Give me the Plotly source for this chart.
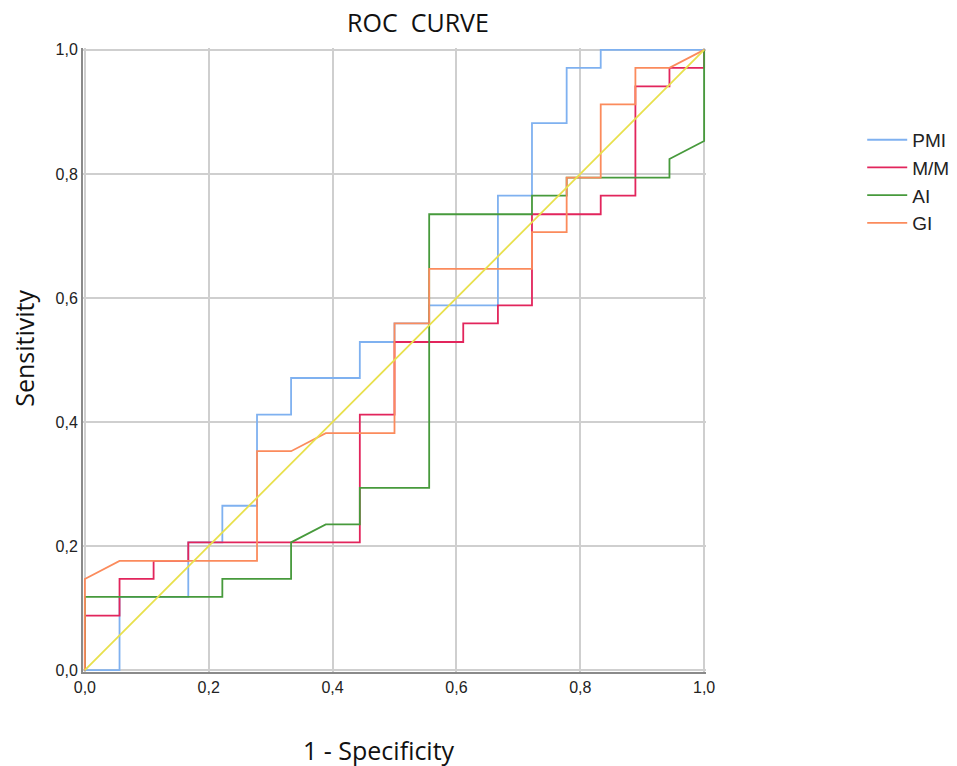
import plotly.graph_objects as go

# ROC curve points (1 - Specificity, Sensitivity)
pmi_fpr = [0.0, 0.056, 0.056, 0.167, 0.167, 0.222, 0.222, 0.278, 0.278, 0.333, 0.333, 0.444, 0.444, 0.5, 0.5,
           0.556, 0.556, 0.667, 0.667, 0.722, 0.722, 0.778, 0.778, 0.833, 0.833, 1.0]
pmi_tpr = [0.0, 0.0, 0.118, 0.118, 0.206, 0.206, 0.265, 0.265, 0.412, 0.412, 0.471, 0.471, 0.529, 0.529, 0.559,
           0.559, 0.588, 0.588, 0.765, 0.765, 0.882, 0.882, 0.971, 0.971, 1.0, 1.0]

mm_fpr = [0.0, 0.0, 0.056, 0.056, 0.111, 0.111, 0.167, 0.167, 0.444, 0.444, 0.5, 0.5, 0.611, 0.611, 0.667,
          0.667, 0.722, 0.722, 0.833, 0.833, 0.889, 0.889, 0.944, 0.944, 1.0, 1.0]
mm_tpr = [0.0, 0.088, 0.088, 0.147, 0.147, 0.176, 0.176, 0.206, 0.206, 0.412, 0.412, 0.529, 0.529, 0.559, 0.559,
          0.588, 0.588, 0.735, 0.735, 0.765, 0.765, 0.941, 0.941, 0.971, 0.971, 1.0]

ai_fpr = [0.0, 0.0, 0.222, 0.222, 0.333, 0.333, 0.389, 0.444, 0.444, 0.556, 0.556, 0.722, 0.722, 0.778, 0.778,
          0.944, 0.944, 1.0, 1.0]
ai_tpr = [0.0, 0.118, 0.118, 0.147, 0.147, 0.206, 0.235, 0.235, 0.294, 0.294, 0.735, 0.735, 0.765, 0.765, 0.794,
          0.794, 0.824, 0.853, 1.0]

gi_fpr = [0.0, 0.0, 0.056, 0.278, 0.278, 0.333, 0.389, 0.5, 0.5, 0.556, 0.556, 0.722, 0.722, 0.778, 0.778,
          0.833, 0.833, 0.889, 0.889, 0.944, 1.0]
gi_tpr = [0.0, 0.147, 0.176, 0.176, 0.353, 0.353, 0.382, 0.382, 0.559, 0.559, 0.647, 0.647, 0.706, 0.706, 0.794,
          0.794, 0.912, 0.912, 0.971, 0.971, 1.0]

ref_fpr = [0.0, 1.0]
ref_tpr = [0.0, 1.0]

tick_vals = [0.0, 0.2, 0.4, 0.6, 0.8, 1.0]

series = [
    ("PMI", pmi_fpr, pmi_tpr, "#7fb1f0"),
    ("M/M", mm_fpr, mm_tpr, "#e2255c"),
    ("AI", ai_fpr, ai_tpr, "#479a3c"),
    ("GI", gi_fpr, gi_tpr, "#fb8b5c"),
]

fig = go.Figure()
for name, x, y, color in series:
    fig.add_trace(go.Scatter(x=x, y=y, mode="lines", name=name,
                             line=dict(color=color, width=1.8)))
fig.add_trace(go.Scatter(x=ref_fpr, y=ref_tpr, mode="lines", showlegend=False,
                         line=dict(color="#e8e04c", width=1.8)))

PAD = 0.003
axis_common = dict(
    range=[-PAD, 1 + PAD],
    tickvals=tick_vals,
    tickformat=".1f",
    showgrid=True,
    gridcolor="#cfcfcf",
    gridwidth=2,
    zeroline=False,
    showline=True,
    linecolor="#8a8a8a",
    linewidth=2,
    ticks="",
    automargin=False,
    tickfont=dict(family="Liberation Sans, Arial", size=16, color="#222"),
)

title_font = dict(family="Open Sans", size=25, color="#111")

W, H = 957, 766
X0, X1 = 85, 704     # pixel of x=0 and x=1
Y0, Y1 = 670, 50     # pixel of y=0 and y=1
ux = (X1 - X0)
uy = (Y0 - Y1)
L = X0 - PAD * ux
R = W - (X1 + PAD * ux)
T = Y1 - PAD * uy
B = H - (Y0 + PAD * uy)
PW = W - L - R
PH = H - T - B


def px_x(p):
    return (p - L) / PW


def px_y(p):
    return (H - B - p) / PH


fig.update_layout(
    width=W, height=H,
    margin=dict(l=L, r=R, t=T, b=B, autoexpand=False),
    paper_bgcolor="white",
    plot_bgcolor="white",
    separators=",.",
    title=dict(text="ROC\u00a0 CURVE", x=418 / W, xanchor="center", y=1 - 23 / H, yanchor="middle",
               font=title_font, automargin=False),
    xaxis=dict(**axis_common),
    yaxis=dict(**axis_common),
    annotations=[
        dict(text="1 - Specificity", xref="paper", yref="paper", x=px_x(379), y=px_y(750),
             xanchor="center", yanchor="middle", showarrow=False, font=title_font),
        dict(text="Sensitivity", xref="paper", yref="paper", x=px_x(24), y=px_y(348),
             xanchor="center", yanchor="middle", showarrow=False, textangle=-90, font=title_font),
    ],
    legend=dict(x=px_x(862), y=px_y(121), xanchor="left", yanchor="top",
                font=dict(family="Liberation Sans, Arial", size=19, color="#222"),
                itemwidth=40, bgcolor="rgba(0,0,0,0)"),
    showlegend=True,
)

# remove the browser's default page margin so the figure sits at the window's corner
fig.write_html("out.html", config={"displayModeBar": False},
               post_script="document.body.style.margin='0';")
